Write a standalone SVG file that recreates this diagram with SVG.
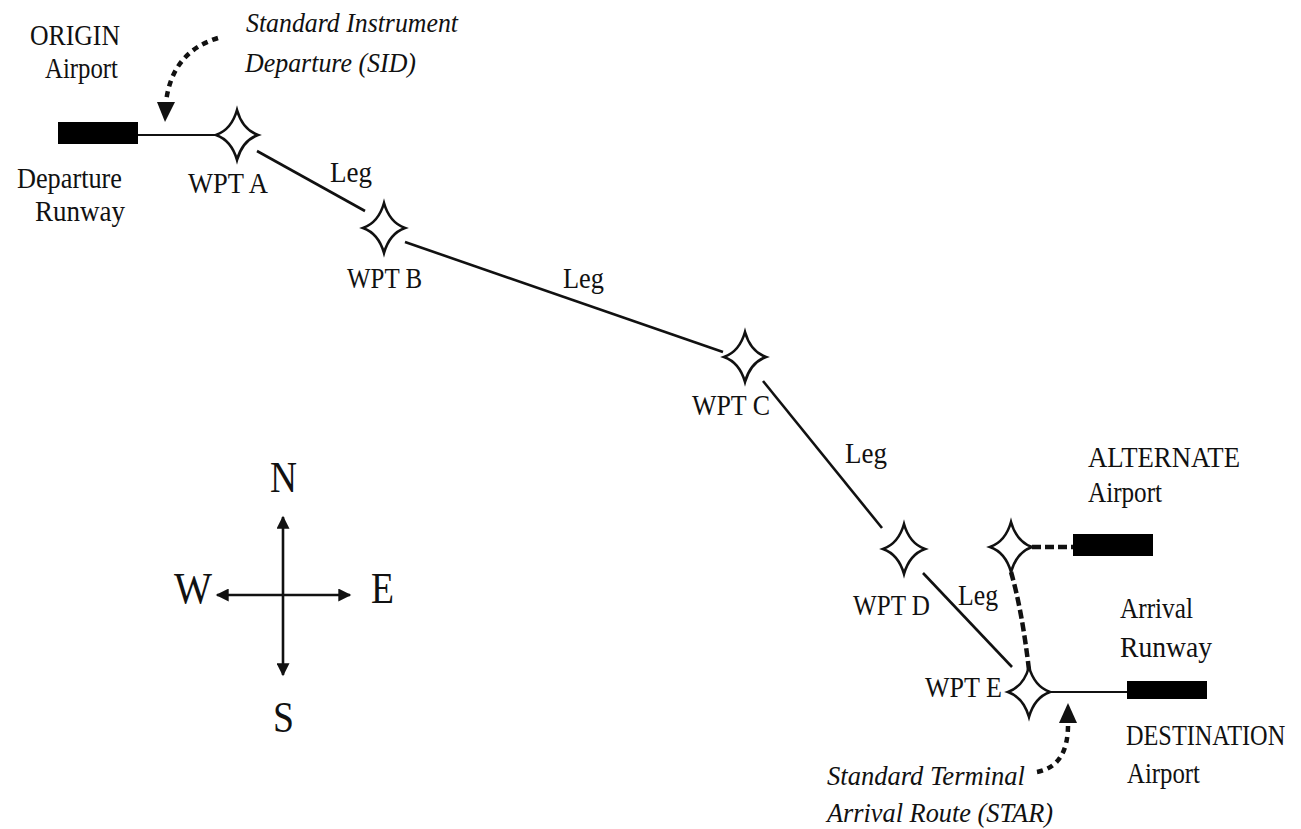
<svg xmlns="http://www.w3.org/2000/svg" width="1301" height="829" viewBox="0 0 1301 829">
<style>
text{font-family:"Liberation Serif","Times New Roman",serif;fill:#111;font-size:30px}
.it{font-style:italic;font-size:28px}
.cmp{font-size:44px}
.star{fill:#fff;stroke:#111;stroke-width:2.6;stroke-linejoin:miter}
.rw{fill:#000}
.leg{stroke:#111;stroke-width:2.6;fill:none}
.thin{stroke:#111;stroke-width:2;fill:none}
.dash{stroke:#111;stroke-width:4.5;fill:none;stroke-dasharray:9 4}
.dot{stroke:#111;stroke-width:4.5;fill:none;stroke-dasharray:6 5}
.ax{stroke:#111;stroke-width:2.6;fill:none}
</style>
<defs>
<marker id="ah" viewBox="0 0 10 10" refX="9" refY="5" markerWidth="7" markerHeight="5" orient="auto" markerUnits="strokeWidth">
<path d="M0,0 L10,5 L0,10 Z" fill="#111"/>
</marker>
<path id="st" d="M0,-25 Q5.5,-5.5 21,0 Q5.5,5.5 0,25 Q-5.5,5.5 -21,0 Q-5.5,-5.5 0,-25 Z"/>
</defs>
<rect width="1301" height="829" fill="#fff"/>

<g id="connectors">
<line class="thin" x1="138" y1="135" x2="217" y2="135"/>
<line class="leg" x1="257" y1="151" x2="365" y2="211"/>
<line class="leg" x1="405" y1="242" x2="723" y2="352"/>
<line class="leg" x1="763" y1="381" x2="882" y2="528"/>
<line class="leg" x1="923" y1="573" x2="1012" y2="667"/>
<line class="thin" x1="1050" y1="692" x2="1127" y2="692"/>
<line class="dash" x1="1032" y1="547" x2="1073" y2="547"/>
<path class="dash" d="M1011,572 Q1022,610 1029,670"/>
<path class="dot" d="M218,38 Q172,52 166,102"/>
<polygon points="157,102 175,102 165,122" fill="#111"/>
<path class="dot" d="M1037,772 Q1069,766 1068,722"/>
<polygon points="1059,723 1077,723 1068,703" fill="#111"/>
</g>

<g id="compass">
<line class="ax" x1="283" y1="595" x2="283" y2="517" marker-end="url(#ah)"/>
<line class="ax" x1="283" y1="595" x2="283" y2="675" marker-end="url(#ah)"/>
<line class="ax" x1="283" y1="595" x2="217" y2="595" marker-end="url(#ah)"/>
<line class="ax" x1="283" y1="595" x2="350" y2="595" marker-end="url(#ah)"/>
<text class="cmp" x="270" y="492" textLength="27" lengthAdjust="spacingAndGlyphs">N</text>
<text class="cmp" x="174" y="603" textLength="38" lengthAdjust="spacingAndGlyphs">W</text>
<text class="cmp" x="371" y="603" textLength="23" lengthAdjust="spacingAndGlyphs">E</text>
<text class="cmp" x="273" y="732" textLength="21" lengthAdjust="spacingAndGlyphs">S</text>
</g>

<g id="origin">
<rect class="rw" x="58" y="122" width="80" height="22"/>
<text x="30" y="45" textLength="90" lengthAdjust="spacingAndGlyphs">ORIGIN</text>
<text x="45" y="78" textLength="73" lengthAdjust="spacingAndGlyphs">Airport</text>
<text x="17" y="188" textLength="105" lengthAdjust="spacingAndGlyphs">Departure</text>
<text x="35" y="221" textLength="90" lengthAdjust="spacingAndGlyphs">Runway</text>
</g>

<g id="sid-label">
<text class="it" x="246" y="32" textLength="212" lengthAdjust="spacingAndGlyphs">Standard Instrument</text>
<text class="it" x="245" y="72" textLength="171" lengthAdjust="spacingAndGlyphs">Departure (SID)</text>
</g>

<g id="wpt-a">
<use href="#st" class="star" x="237" y="135"/>
<text x="188" y="193" textLength="80" lengthAdjust="spacingAndGlyphs">WPT A</text>
</g>
<g id="leg-ab"><text x="330" y="182" textLength="42" lengthAdjust="spacingAndGlyphs">Leg</text></g>

<g id="wpt-b">
<use href="#st" class="star" x="384" y="228"/>
<text x="347" y="288" textLength="75" lengthAdjust="spacingAndGlyphs">WPT B</text>
</g>
<g id="leg-bc"><text x="563" y="288" textLength="41" lengthAdjust="spacingAndGlyphs">Leg</text></g>

<g id="wpt-c">
<use href="#st" class="star" x="745" y="357"/>
<text x="692" y="415" textLength="78" lengthAdjust="spacingAndGlyphs">WPT C</text>
</g>
<g id="leg-cd"><text x="845" y="463" textLength="42" lengthAdjust="spacingAndGlyphs">Leg</text></g>

<g id="wpt-d">
<use href="#st" class="star" x="904" y="549"/>
<text x="853" y="615" textLength="77" lengthAdjust="spacingAndGlyphs">WPT D</text>
</g>
<g id="leg-de"><text x="958" y="605" textLength="40" lengthAdjust="spacingAndGlyphs">Leg</text></g>

<g id="alt-wpt">
<use href="#st" class="star" x="1011" y="547"/>
</g>

<g id="alternate">
<rect class="rw" x="1073" y="534" width="80" height="22"/>
<text x="1088" y="467" textLength="152" lengthAdjust="spacingAndGlyphs">ALTERNATE</text>
<text x="1088" y="502" textLength="74" lengthAdjust="spacingAndGlyphs">Airport</text>
</g>

<g id="wpt-e">
<use href="#st" class="star" x="1029" y="692"/>
<text x="925" y="697" textLength="77" lengthAdjust="spacingAndGlyphs">WPT E</text>
</g>

<g id="destination">
<rect class="rw" x="1127" y="681" width="80" height="18"/>
<text x="1120" y="618" textLength="73" lengthAdjust="spacingAndGlyphs">Arrival</text>
<text x="1120" y="657" textLength="92" lengthAdjust="spacingAndGlyphs">Runway</text>
<text x="0" y="0" transform="translate(1126,745) scale(0.81,1)">DESTINATION</text>
<text x="1127" y="783" textLength="73" lengthAdjust="spacingAndGlyphs">Airport</text>
</g>

<g id="star-label">
<text class="it" x="827" y="785" textLength="198" lengthAdjust="spacingAndGlyphs">Standard Terminal</text>
<text class="it" x="827" y="822" textLength="226" lengthAdjust="spacingAndGlyphs">Arrival Route (STAR)</text>
</g>
</svg>
